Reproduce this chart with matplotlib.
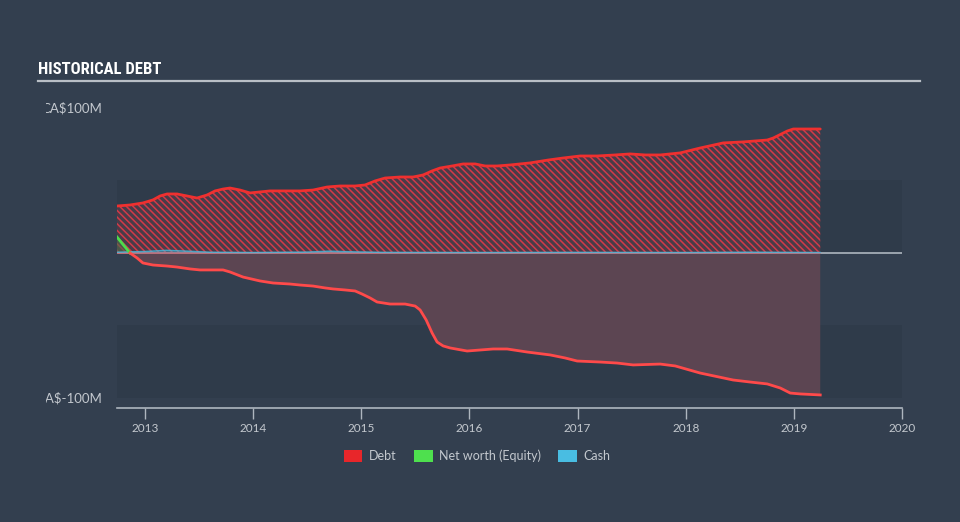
import matplotlib
matplotlib.use("Agg")
import matplotlib.pyplot as plt
from matplotlib import font_manager
from matplotlib.font_manager import FontProperties
from matplotlib.patches import Patch
from matplotlib.transforms import Bbox, TransformedBbox, blended_transform_factory
import numpy as np
import logging
logging.getLogger("matplotlib.font_manager").setLevel(logging.ERROR)

# ---------------- data (values in CA$ millions) ----------------
debt_t = [2012.741, 2012.861, 2012.981, 2013.074, 2013.139, 2013.204, 2013.296, 2013.389,
          2013.481, 2013.574, 2013.648, 2013.722, 2013.786, 2013.879, 2013.971, 2014.064,
          2014.156, 2014.314, 2014.434, 2014.554, 2014.684, 2014.804, 2014.943, 2015.035,
          2015.128, 2015.220, 2015.359, 2015.479, 2015.572, 2015.655, 2015.729, 2015.840,
          2015.942, 2016.053, 2016.145, 2016.256, 2016.376, 2016.561, 2016.728, 2016.867,
          2017.024, 2017.181, 2017.348, 2017.487, 2017.626, 2017.764, 2017.949, 2018.134,
          2018.347, 2018.532, 2018.754, 2018.810, 2018.939, 2018.995, 2019.106, 2019.244]
debt_v = [32.4, 33.1, 34.5, 36.6, 39.3, 40.7, 40.7, 39.3,
          37.9, 40.0, 42.8, 44.1, 44.8, 43.4, 41.4, 42.1,
          42.8, 42.8, 42.8, 43.4, 45.5, 46.2, 46.2, 46.9,
          49.7, 51.7, 52.4, 52.4, 53.8, 56.6, 58.6, 60.0,
          61.4, 61.4, 60.0, 60.0, 60.7, 62.1, 64.1, 65.5,
          66.9, 66.9, 67.6, 68.3, 67.6, 67.6, 69.0, 72.4,
          75.9, 76.6, 77.9, 79.3, 84.1, 85.5, 85.5, 85.5]

equity_t = [2012.741, 2012.861, 2012.926, 2012.981, 2013.074, 2013.204, 2013.296, 2013.416,
            2013.509, 2013.648, 2013.722, 2013.786, 2013.907, 2014.064, 2014.184, 2014.341,
            2014.434, 2014.554, 2014.665, 2014.739, 2014.850, 2014.943, 2015.007, 2015.081,
            2015.146, 2015.266, 2015.405, 2015.498, 2015.544, 2015.600, 2015.655, 2015.701,
            2015.757, 2015.822, 2015.979, 2016.099, 2016.219, 2016.349, 2016.534, 2016.746,
            2016.885, 2016.996, 2017.209, 2017.366, 2017.514, 2017.764, 2017.903, 2018.134,
            2018.439, 2018.597, 2018.754, 2018.874, 2018.967, 2019.059, 2019.244]
equity_v = [11.0, 0.0, -3.4, -6.9, -8.3, -9.0, -9.7, -11.0,
            -11.7, -11.7, -11.7, -13.1, -16.6, -19.3, -20.7, -21.4,
            -22.1, -22.8, -24.1, -24.8, -25.5, -26.2, -28.3, -31.0,
            -33.8, -35.2, -35.2, -36.6, -39.3, -46.2, -55.2, -61.4,
            -64.1, -65.5, -67.6, -66.9, -66.2, -66.2, -68.3, -70.3,
            -72.4, -74.5, -75.2, -75.9, -77.2, -76.6, -77.9, -82.8,
            -87.6, -89.0, -90.3, -93.1, -96.6, -97.2, -97.9]

cash_t = [2012.741, 2013.0, 2013.2, 2013.4, 2013.6, 2014.0, 2014.5, 2014.7, 2014.9,
          2015.2, 2016.0, 2017.0, 2018.0, 2018.6, 2019.244]
cash_v = [0.5, 1.0, 1.8, 1.2, 0.5, 0.3, 0.6, 1.2, 0.8, 0.4, 0.3, 0.4, 0.3, 0.5, 0.3]

year_ticks = [2013, 2014, 2015, 2016, 2017, 2018, 2019, 2020]
ytick_vals = [100, -100]
ytick_labels = ["CA$100M", "CA$-100M"]
legend_labels = ["Debt", "Net worth (Equity)", "Cash"]
title = "HISTORICAL DEBT"

# ---------------- style ----------------
BG = "#333f4f"
BAND = "#2f3b4a"
TXT = "#c3c8ce"
RED = "#f0302f"
RED_NEG = "#ff4a4a"
GREEN = "#4cdc4c"
BLUE = "#48bde0"

avail = {f.name for f in font_manager.fontManager.ttflist}
body_font = "Lato" if "Lato" in avail else "DejaVu Sans"
title_families = [f for f in ["Roboto Condensed", "Open Sans Condensed", "Liberation Sans Narrow"]
                  if f in avail] + ["DejaVu Sans"]
title_prop = FontProperties(family=title_families[0], weight="bold", stretch="condensed", size=12)

plt.rcParams["hatch.linewidth"] = 1.1

W, H = 960, 522
fig = plt.figure(figsize=(W / 100, H / 100), dpi=100, facecolor=BG)
ax = fig.add_axes([117 / W, 114 / H, (902 - 117) / W, 308 / H])
ax.set_facecolor(BG)

ax.set_xlim(2012.741, 2020.0)
ax.set_ylim(-106.9, 105.5)

# bands
ax.axhspan(0, 50, color=BAND, lw=0, zorder=0)
ax.axhspan(-100, -50, color=BAND, lw=0, zorder=0)

dt = np.array(debt_t)
dv = np.array(debt_v)
et = np.array(equity_t)
ev = np.array(equity_v)

# debt hatched area
ax.fill_between(dt, 0, dv, facecolor="#4a3b48", lw=0, zorder=1)
ax.fill_between(dt, 0, dv, facecolor="none", edgecolor="#d23a48", hatch="\\\\\\\\\\", lw=0, zorder=2)
ax.plot(dt, dv, color=RED, lw=2, zorder=5, solid_capstyle="round", solid_joinstyle="round")

# zero line
ax.axhline(0, color="#aeb6bf", lw=1.2, zorder=3)
ax.plot([dt[0], dt[-1]], [0, 0], color="#d8545c", lw=1.2, zorder=3.2)

# equity fill
ax.fill_between(et, ev, 0, where=ev <= 0, interpolate=True, facecolor="#5c4552", lw=0, zorder=1.5)
ax.fill_between(et, ev, 0, where=ev >= 0, interpolate=True, facecolor="#4a6a4a", alpha=0.6, lw=0, zorder=2.5)
ax.plot(et[:2], ev[:2], color=GREEN, lw=2, zorder=5)
ax.plot(et[1:], ev[1:], color=RED_NEG, lw=2, zorder=5, solid_joinstyle="round")

# cash
ax.fill_between(cash_t, 0, cash_v, color=BLUE, alpha=0.3, lw=0, zorder=3.5)
ax.plot(cash_t, cash_v, color=BLUE, lw=1.1, alpha=0.8, zorder=4)

# spines / ticks
for s in ["top", "right", "left"]:
    ax.spines[s].set_visible(False)
ax.spines["bottom"].set_color("#aeb6bf")
ax.spines["bottom"].set_linewidth(1.2)
ax.set_xticks(year_ticks)
ax.set_xticklabels([str(y) for y in year_ticks])
ax.tick_params(axis="x", colors="#aeb6bf", length=8, width=1, direction="out", pad=3,
               labelcolor=TXT, labelsize=8.5)
for lab in ax.get_xticklabels():
    lab.set_fontfamily(body_font)
ax.set_yticks([])

# y labels, clipped at the left like the reference
clip = TransformedBbox(Bbox([[46 / W, 0], [1, 1]]), fig.transFigure)
btr = blended_transform_factory(fig.transFigure, ax.transData)
for v, lab in zip(ytick_vals, ytick_labels):
    t = ax.text(102 / W, v, lab, transform=btr, ha="right", va="center", color=TXT,
                fontsize=9.5, family=body_font, clip_on=True)
    t.set_clip_box(clip)

# title (baseline at y=74 px)
fig.text(38 / W, 1 - 74 / H, title, color="white", fontproperties=title_prop,
         ha="left", va="baseline")
fig.add_artist(plt.Line2D([38 / W, 920 / W], [1 - 81 / H, 1 - 81 / H], color="#b9bfc6", lw=1.6))

# legend
handles = [Patch(facecolor="#e8262a", edgecolor="none"),
           Patch(facecolor="#4ee04e", edgecolor="none"),
           Patch(facecolor="#49bde2", edgecolor="none")]
leg = fig.legend(handles, legend_labels, loc="center", bbox_to_anchor=(477 / W, 1 - 456 / H),
                 ncol=3, frameon=False, handlelength=1.5, handleheight=1.0,
                 handletextpad=0.5, columnspacing=1.4, prop={"family": body_font, "size": 9})
for t in leg.get_texts():
    t.set_color(TXT)

fig.savefig("out.png", dpi=100, facecolor=BG)
